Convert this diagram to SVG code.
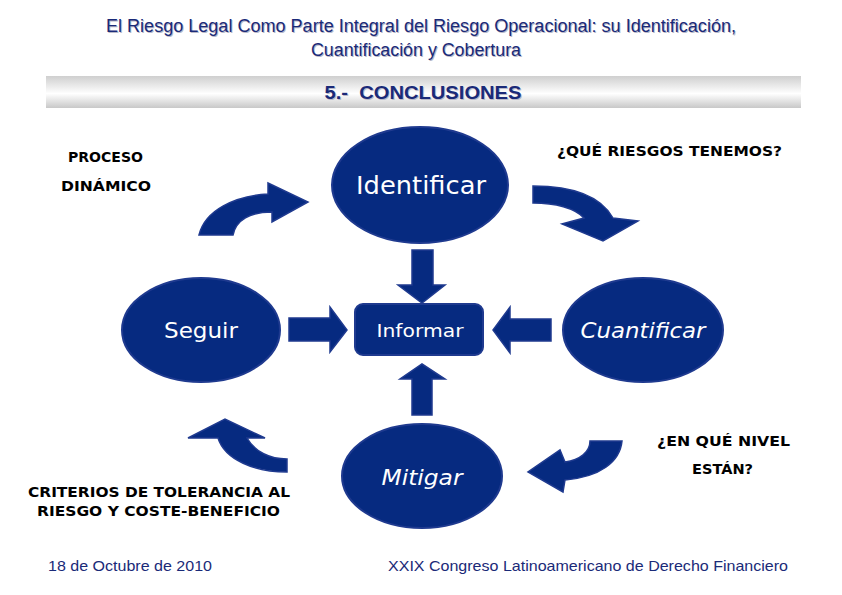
<svg xmlns="http://www.w3.org/2000/svg" width="842" height="595" viewBox="0 0 842 595">
<defs>
<linearGradient id="band" x1="0" y1="0" x2="0" y2="1">
<stop offset="0" stop-color="#cfcfcf"/>
<stop offset="0.55" stop-color="#ffffff"/>
<stop offset="1" stop-color="#c8c8c8"/>
</linearGradient>
</defs>
<style>
.hdr{font-family:"Liberation Sans",Arial,sans-serif;fill:#1a2a78;text-anchor:middle}
.sh{fill:#b8b8c8}
.foot{font-family:"Liberation Sans",Arial,sans-serif;font-size:15px;fill:#1a2a78}
.node{fill:#062a80;stroke:#1f3a8f;stroke-width:2}
.arrow{fill:#062a80;stroke:#1f3a8f;stroke-width:1.5;stroke-linejoin:miter}
.nt{font-family:"Comic Sans MS","DejaVu Sans",sans-serif;fill:#ffffff;text-anchor:middle}
.lbl{font-family:"Comic Sans MS","DejaVu Sans",sans-serif;font-weight:bold;font-size:14px;fill:#000000}
</style>
<rect width="842" height="595" fill="#ffffff"/>
<g id="header">
<text class="hdr sh" x="422" y="33" font-size="18" textLength="630" lengthAdjust="spacingAndGlyphs">El Riesgo Legal Como Parte Integral del Riesgo Operacional: su Identificación,</text>
<text class="hdr" x="421" y="32" font-size="18" textLength="630" lengthAdjust="spacingAndGlyphs">El Riesgo Legal Como Parte Integral del Riesgo Operacional: su Identificación,</text>
<text class="hdr sh" x="417" y="57" font-size="18" textLength="210" lengthAdjust="spacingAndGlyphs">Cuantificación y Cobertura</text>
<text class="hdr" x="416" y="56" font-size="18" textLength="210" lengthAdjust="spacingAndGlyphs">Cuantificación y Cobertura</text>
<rect x="46" y="76" width="755" height="32" fill="url(#band)"/>
<text class="hdr sh" x="424" y="100" font-size="19" font-weight="bold" textLength="197" lengthAdjust="spacingAndGlyphs">5.-&#160; CONCLUSIONES</text>
<text class="hdr" x="423" y="99" font-size="19" font-weight="bold" textLength="197" lengthAdjust="spacingAndGlyphs">5.-&#160; CONCLUSIONES</text>
</g>
<g id="connectors">
<path class="arrow" d="M412,250 L433,250 L433,285 L445,285 L422,303 L398,285 L412,285 Z"/>
<path class="arrow" d="M289,318 L330,318 L330,307 L347,330 L330,352 L330,341 L289,341 Z"/>
<path class="arrow" d="M551,319 L510,319 L510,307 L493,330 L510,353 L510,341 L551,341 Z"/>
<path class="arrow" d="M412,415 L432,415 L432,379 L445,379 L422,364 L400,379 L412,379 Z"/>
<path class="arrow" d="M199,235 C205,210 235,196 268,194 L268,183 L308,202 L272,222 L272,212 C250,212 236,220 233,235 Z"/>
<path class="arrow" d="M533,186 C570,186 600,195 613,218 L638,221 L603,241 L562,224 L584,218 C575,208 555,203 533,203 Z"/>
<path class="arrow" d="M622,441 C620,462 600,477 565,480 L563,492 L528,472 L560,450 L565,462 C580,460 590,452 590,441 Z"/>
<path class="arrow" d="M287,472 C255,472 225,460 218,438 L188,438 L225,419 L265,438 L247,438 C255,452 270,459 287,459 Z"/>
</g>
<g id="identificar">
<ellipse class="node" cx="420" cy="185" rx="88" ry="58"/>
<text class="nt" x="421" y="194" font-size="24" textLength="130" lengthAdjust="spacingAndGlyphs">Identificar</text>
</g>
<g id="seguir">
<ellipse class="node" cx="201" cy="330" rx="79" ry="52"/>
<text class="nt" x="201" y="338" font-size="22" textLength="74" lengthAdjust="spacingAndGlyphs">Seguir</text>
</g>
<g id="informar">
<rect class="node" x="355" y="304" width="128" height="51" rx="8"/>
<text class="nt" x="420" y="337" font-size="18" textLength="87" lengthAdjust="spacingAndGlyphs">Informar</text>
</g>
<g id="cuantificar">
<ellipse class="node" cx="643" cy="330" rx="80" ry="52"/>
<text class="nt" x="643" y="338" font-size="22" font-style="italic" textLength="125" lengthAdjust="spacingAndGlyphs">Cuantificar</text>
</g>
<g id="mitigar">
<ellipse class="node" cx="422" cy="476" rx="80" ry="52"/>
<text class="nt" x="422" y="485" font-size="22" font-style="italic" textLength="81" lengthAdjust="spacingAndGlyphs">Mitigar</text>
</g>
<g id="labels">
<text class="lbl" x="68" y="162" textLength="75" lengthAdjust="spacingAndGlyphs">PROCESO</text>
<text class="lbl" x="61" y="191" textLength="90" lengthAdjust="spacingAndGlyphs">DINÁMICO</text>
<text class="lbl" x="557" y="156" textLength="225" lengthAdjust="spacingAndGlyphs">¿QUÉ RIESGOS TENEMOS?</text>
<text class="lbl" x="657" y="446" textLength="133" lengthAdjust="spacingAndGlyphs">¿EN QUÉ NIVEL</text>
<text class="lbl" x="692" y="474" textLength="61" lengthAdjust="spacingAndGlyphs">ESTÁN?</text>
<text class="lbl" x="28" y="497" textLength="262" lengthAdjust="spacingAndGlyphs">CRITERIOS DE TOLERANCIA AL</text>
<text class="lbl" x="37" y="516" textLength="243" lengthAdjust="spacingAndGlyphs">RIESGO Y COSTE-BENEFICIO</text>
</g>
<g id="footer">
<text class="foot" x="48" y="571" textLength="164" lengthAdjust="spacingAndGlyphs">18 de Octubre de 2010</text>
<text class="foot" x="388" y="571" textLength="400" lengthAdjust="spacingAndGlyphs">XXIX Congreso Latinoamericano de Derecho Financiero</text>
</g>
</svg>
